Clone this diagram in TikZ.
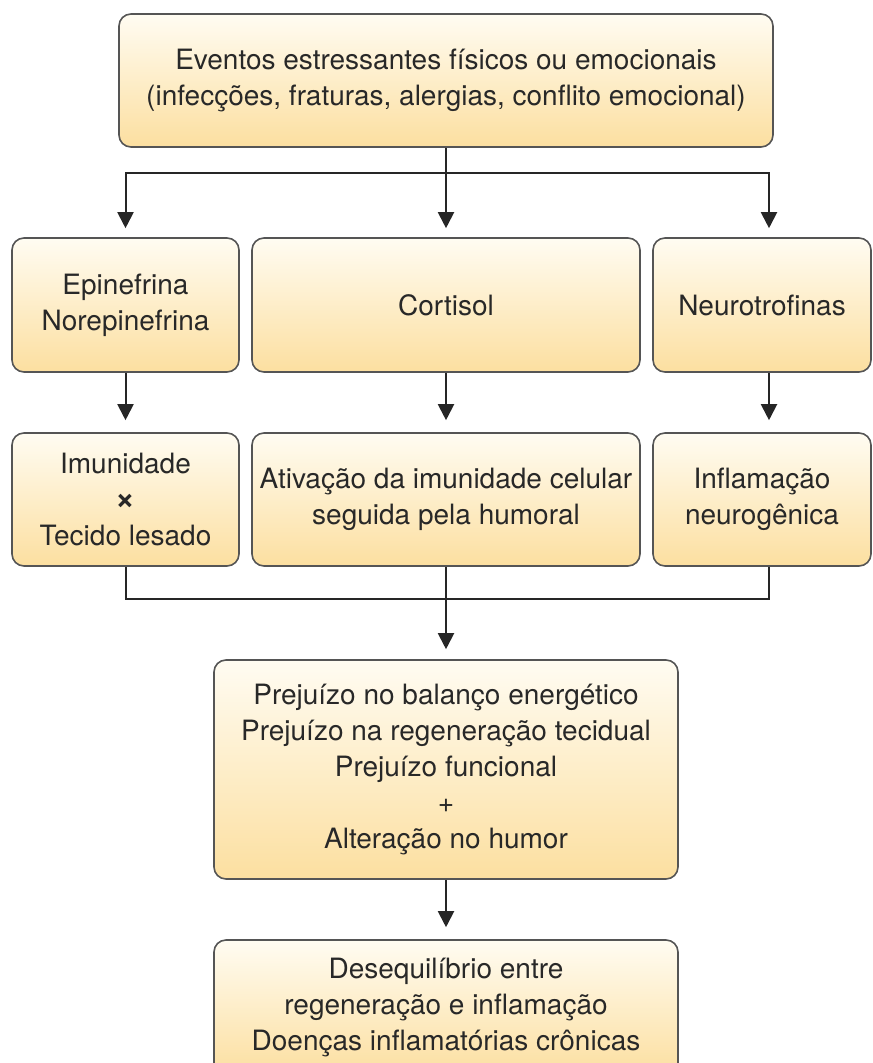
\documentclass[tikz,border=0pt]{standalone}
\usepackage{fontspec}
\setmainfont{TeX Gyre Heros}
\usepackage{tikz}
\usetikzlibrary{arrows.meta, positioning, shadings}
\definecolor{boxtop}{RGB}{255,252,242}
\definecolor{boxbottom}{RGB}{252,223,160}
\definecolor{boxline}{RGB}{85,85,85}
\definecolor{inktext}{RGB}{40,40,40}

\begin{document}
\begin{tikzpicture}[
    x=0.5pt, y=-0.5pt,
    every node/.style={font=\fontsize{14}{18}\selectfont, text=inktext},
    stage/.style={rectangle, draw=boxline, line width=0.8pt, rounded corners=6pt, align=center, top color=boxtop, bottom color=boxbottom, inner sep=0pt},
    arrow/.style={-{Triangle[length=8pt, width=8pt]}, line width=1pt, draw=black!85},
    link/.style={line width=1pt, draw=black!85}
]
\useasboundingbox (0,0) rectangle (872,1063);

\node[stage, minimum width=327pt, minimum height=66.5pt] (events) at (446,80.5) {Eventos estressantes físicos ou emocionais\\(infecções, fraturas, alergias, conflito emocional)};

% mediators
\node[stage, minimum width=113.5pt, minimum height=67pt] (epi) at (125.5,305) {Epinefrina\\Norepinefrina};
\node[stage, minimum width=194pt, minimum height=67pt] (cort) at (446,305) {Cortisol};
\node[stage, minimum width=109pt, minimum height=67pt] (neuro) at (762,305) {Neurotrofinas};

% effects
\node[stage, minimum width=113.5pt, minimum height=66.5pt] (imun) at (125.5,499.5) {Imunidade\\{\fontsize{17}{18}\selectfont\bfseries ×}\\Tecido lesado};
\node[stage, minimum width=194pt, minimum height=66.5pt] (ativ) at (446,499.5) {Ativação da imunidade celular\\seguida pela humoral};
\node[stage, minimum width=109pt, minimum height=66.5pt] (infl) at (762,499.5) {Inflamação\\neurogênica};

\node[stage, minimum width=232pt, minimum height=109.5pt] (prej) at (446,769.5) {Prejuízo no balanço energético\\Prejuízo na regeneração tecidual\\Prejuízo funcional\\+\\Alteração no humor};
\node[stage, minimum width=232pt, minimum height=67.5pt] (deseq) at (446,1007.5) {Desequilíbrio entre\\regeneração e inflamação\\Doenças inflamatórias crônicas};

\draw[link] (events.south) -- ++(0,25) coordinate (split);
\draw[arrow, shorten >=4.5pt] (split) -| (epi.north);
\draw[arrow, shorten >=4.5pt] (split) -- (cort.north);
\draw[arrow, shorten >=4.5pt] (split) -| ([xshift=3.5pt]neuro.north);

\draw[arrow, shorten >=6pt] (epi.south) -- (imun.north);
\draw[arrow, shorten >=6pt] (cort.south) -- (ativ.north);
\draw[arrow, shorten >=6pt] ([xshift=3.5pt]neuro.south) -- ([xshift=3.5pt]infl.north);

\draw[link] (imun.south) -- ++(0,32) -| ([xshift=3.5pt]infl.south);
\draw[arrow, shorten >=5pt] (ativ.south) -- (prej.north);
\draw[arrow, shorten >=6pt] (prej.south) -- (deseq.north);

\end{tikzpicture}
\end{document}
